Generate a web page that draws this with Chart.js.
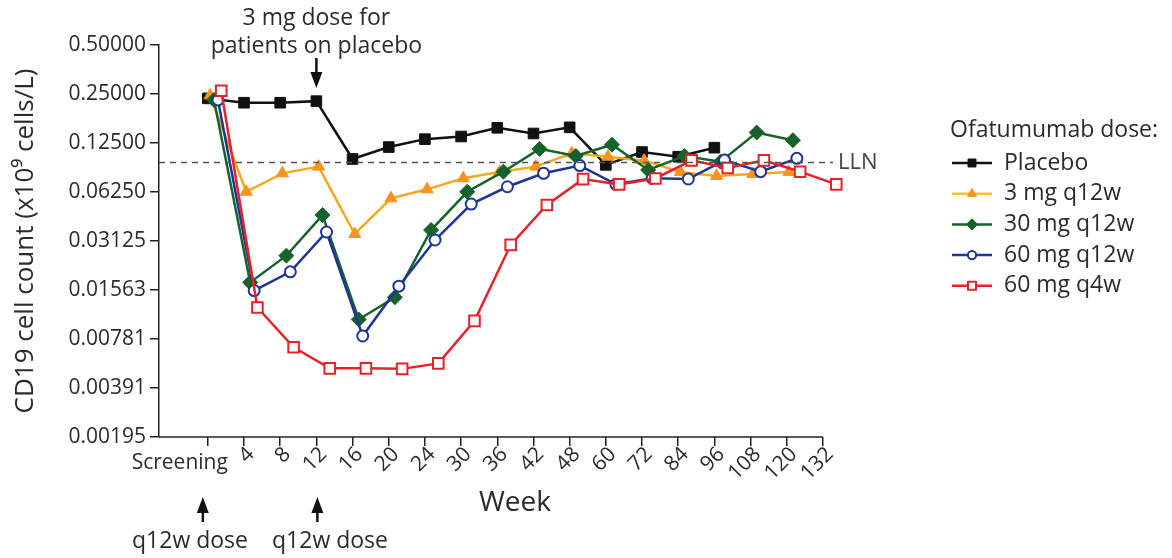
<!DOCTYPE html>
<html>
<head>
<meta charset="utf-8">
<script src="https://cdn.jsdelivr.net/npm/chart.js@4.4.0/dist/chart.umd.min.js"></script>
<style>
  html, body { margin: 0; padding: 0; background: #fff; }
  canvas { display: block; }
</style>
</head>
<body>
<canvas id="grafico" width="1172" height="558"></canvas>
<script>
// Semanas del eje x (categorías)
const semanas = ['Screening', '4', '8', '12', '16', '20', '24', '30', '36', '42', '48', '60', '72', '84', '96', '108', '120', '132'];

// Marcas del eje y (escala log2) y sus textos
const valoresEjeY = [0.001953125, 0.00390625, 0.0078125, 0.015625, 0.03125, 0.0625, 0.125, 0.25, 0.5];
const textosEjeY = ['0.00195', '0.00391', '0.00781', '0.01563', '0.03125', '0.06250', '0.12500', '0.25000', '0.50000'];

// Series (x10^9 células/L)
const placebo = [0.235, 0.221, 0.221, 0.226, 0.0997, 0.118, 0.132, 0.137, 0.155, 0.143, 0.156, 0.0917, 0.110, 0.103, 0.117];
const mg3q12 = [0.245, 0.0627, 0.0814, 0.0895, 0.0345, 0.0572, 0.0649, 0.0759, 0.0829, 0.0895, 0.108, 0.103, 0.0974, 0.083, 0.0785, 0.0806, 0.083];
const mg30q12 = [0.230, 0.0174, 0.0254, 0.0451, 0.0103, 0.0141, 0.0365, 0.0627, 0.0833, 0.115, 0.104, 0.122, 0.0854, 0.104, 0.096, 0.145, 0.130];
const mg60q12 = [0.230, 0.0155, 0.0202, 0.0355, 0.00815, 0.0165, 0.0317, 0.0527, 0.0673, 0.0814, 0.0908, 0.0697, 0.0759, 0.0751, 0.0982, 0.0833, 0.1006];
const mg60q4 = [0.262, 0.0122, 0.00695, 0.00516, 0.00516, 0.00512, 0.00553, 0.0101, 0.0296, 0.052, 0.075, 0.0696, 0.0757, 0.0978, 0.0878, 0.0978, 0.0833, 0.0696];

const nombres = ['Placebo', '3 mg q12w', '30 mg q12w', '60 mg q12w', '60 mg q4w'];
const lln = 0.095;

const fuente = '"Open Sans", "Noto Sans", sans-serif';
const colorTexto = '#2b2b2b';

const aPuntos = (valores, desplazamiento) => valores.map((v, i) => ({ x: i + desplazamiento, y: v }));

const series = [
  { label: nombres[0], data: aPuntos(placebo, 0), borderColor: '#111111', backgroundColor: '#111111',
    pointStyle: 'rect', pointRadius: 7.5, pointBorderWidth: 1, order: 4, lineLegend: '#111111' },
  { label: nombres[1], data: aPuntos(mg3q12, 0.06), borderColor: '#f6a623', backgroundColor: '#f7931e',
    pointBorderColor: '#f7931e', pointStyle: 'triangle', pointRadius: 7, pointBorderWidth: 1, order: 3, lineLegend: '#f3c12a' },
  { label: nombres[2], data: aPuntos(mg30q12, 0.17), borderColor: '#15632a', backgroundColor: '#15632a',
    pointStyle: 'rectRot', pointRadius: 7.5, pointBorderWidth: 1, order: 2, lineLegend: '#15632a' },
  { label: nombres[3], data: aPuntos(mg60q12, 0.28), borderColor: '#1f3594', backgroundColor: '#ffffff',
    pointStyle: 'circle', pointRadius: 5.5, pointBorderWidth: 2, order: 1, lineLegend: '#1f3594' },
  { label: nombres[4], data: aPuntos(mg60q4, 0.37), borderColor: '#e52229', backgroundColor: '#ffffff',
    pointStyle: 'rect', pointRadius: 7.5, pointBorderWidth: 2, order: 0, lineLegend: '#e52229' }
];

const flecha = (ctx, x, y1, y2) => {
  const dir = y2 > y1 ? 1 : -1;
  ctx.beginPath();
  ctx.moveTo(x, y1);
  ctx.lineTo(x, y2 - dir * 12);
  ctx.lineWidth = 2.5;
  ctx.strokeStyle = '#111';
  ctx.stroke();
  ctx.beginPath();
  ctx.moveTo(x, y2);
  ctx.lineTo(x - 6, y2 - dir * 16);
  ctx.lineTo(x + 6, y2 - dir * 16);
  ctx.closePath();
  ctx.fillStyle = '#111';
  ctx.fill();
};

const extras = {
  id: 'extras',
  afterDraw(chart) {
    const ctx = chart.ctx;
    const xs = chart.scales.x;
    const ys = chart.scales.y;
    const xFin = xs.getPixelForValue(semanas.length - 1);
    ctx.save();

    // Línea del eje x (hasta la última semana)
    ctx.beginPath();
    ctx.moveTo(xs.left, ys.bottom);
    ctx.lineTo(xFin, ys.bottom);
    ctx.lineWidth = 1.5;
    ctx.strokeStyle = '#222';
    ctx.stroke();

    // Etiquetas del eje x
    ctx.fillStyle = colorTexto;
    ctx.font = '21px ' + fuente;
    semanas.forEach((txt, i) => {
      const px = xs.getPixelForValue(i);
      if (i === 0) {
        ctx.textAlign = 'right';
        ctx.textBaseline = 'middle';
        ctx.fillText(txt, px + 20, 463);
        return;
      }
      ctx.save();
      ctx.translate(px + 7, 451);
      ctx.rotate(-Math.PI / 4);
      ctx.textAlign = 'right';
      ctx.textBaseline = 'middle';
      ctx.fillText(txt, 0, 0);
      ctx.restore();
    });

    ctx.font = '28px ' + fuente;
    ctx.textAlign = 'center';
    ctx.textBaseline = 'middle';
    ctx.fillText('Week', 515, 503);

    // Línea LLN
    const yl = ys.getPixelForValue(lln);
    ctx.beginPath();
    ctx.setLineDash([6, 5]);
    ctx.moveTo(xs.left, yl);
    ctx.lineTo(833, yl);
    ctx.lineWidth = 1.5;
    ctx.strokeStyle = '#555';
    ctx.stroke();
    ctx.setLineDash([]);
    ctx.font = '22px ' + fuente;
    ctx.textAlign = 'left';
    ctx.fillStyle = '#444';
    ctx.fillText('LLN', 838, yl);

    // Anotaciones de dosis
    const x12 = xs.getPixelForValue(3);
    ctx.fillStyle = colorTexto;
    ctx.font = '23px ' + fuente;
    ctx.textAlign = 'center';
    ctx.fillText('3 mg dose for', x12, 18);
    ctx.fillText('patients on placebo', x12, 46);
    flecha(ctx, x12, 58, 88);

    const x0 = xs.getPixelForValue(0) - 5;
    flecha(ctx, x0, 522, 497);
    flecha(ctx, x12 + 1, 522, 497);
    ctx.fillStyle = colorTexto;
    ctx.font = '23px ' + fuente;
    ctx.textAlign = 'center';
    ctx.fillText('q12w dose', 190, 541);
    ctx.fillText('q12w dose', 330, 541);

    // Leyenda
    ctx.textAlign = 'left';
    ctx.font = '23px ' + fuente;
    ctx.fillText('Ofatumumab dose:', 950, 130);
    chart.data.datasets.forEach((ds, i) => {
      const y = 163 + i * 30.7;
      ctx.beginPath();
      ctx.moveTo(952, y);
      ctx.lineTo(992, y);
      ctx.lineWidth = 2.5;
      ctx.strokeStyle = ds.lineLegend;
      ctx.stroke();
      ctx.fillStyle = ds.backgroundColor;
      ctx.strokeStyle = ds.pointBorderColor || ds.borderColor;
      ctx.lineWidth = ds.pointBorderWidth;
      Chart.helpers.drawPoint(ctx, {
        pointStyle: ds.pointStyle,
        radius: ds.pointRadius * 0.75,
        borderWidth: ds.pointBorderWidth,
        rotation: 0
      }, 972, y);
      ctx.fillStyle = colorTexto;
      ctx.font = '23px ' + fuente;
      ctx.fillText(ds.label, 1004, y);
    });
    ctx.restore();
  }
};

new Chart(document.getElementById('grafico'), {
  type: 'line',
  data: {
    datasets: series.map(s => Object.assign({ borderWidth: 2.5, tension: 0, clip: false }, s))
  },
  options: {
    responsive: false,
    animation: false,
    devicePixelRatio: 1,
    layout: { padding: { top: 45, right: 331, left: 0, bottom: 0 } },
    plugins: { legend: { display: false }, tooltip: { enabled: false } },
    scales: {
      x: {
        type: 'linear',
        min: -1.35,
        max: 17.5,
        afterBuildTicks: (scale) => { scale.ticks = semanas.map((_, i) => ({ value: i })); },
        afterFit: (scale) => { scale.height = 121; },
        ticks: { display: false },
        grid: { drawOnChartArea: false, tickLength: 9, color: '#222', lineWidth: 1.5 },
        border: { display: false }
      },
      y: {
        type: 'logarithmic',
        min: valoresEjeY[0],
        max: valoresEjeY[valoresEjeY.length - 1],
        afterBuildTicks: (scale) => { scale.ticks = valoresEjeY.map(v => ({ value: v })); },
        afterFit: (scale) => { scale.width = 159; },
        ticks: {
          callback: (v) => textosEjeY[valoresEjeY.indexOf(v)],
          color: colorTexto,
          font: { family: fuente, size: 21 },
          padding: 4,
          autoSkip: false
        },
        grid: { drawOnChartArea: false, tickLength: 9, color: '#222', lineWidth: 1.5 },
        border: { display: true, color: '#222', width: 1.5 },
        title: {
          display: true,
          text: 'CD19 cell count (x10⁹ cells/L)',
          color: colorTexto,
          font: { family: fuente, size: 26 },
          padding: { top: 10, bottom: 0 }
        }
      }
    }
  },
  plugins: [extras]
});
</script>
</body>
</html>
